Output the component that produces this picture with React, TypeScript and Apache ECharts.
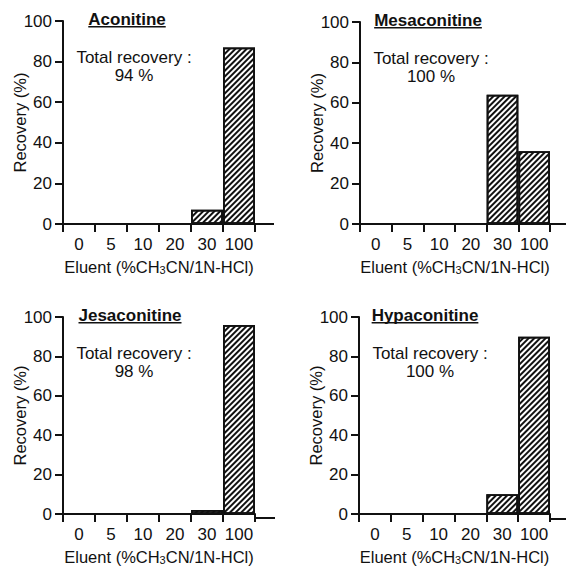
import React, { useEffect, useRef } from "react";
import * as echarts from "echarts";

const categories = ["0", "5", "10", "20", "30", "100"];
const aconitine = [0, 0, 0, 0, 7, 87];
const mesaconitine = [0, 0, 0, 0, 64, 36];
const jesaconitine = [0, 0, 0, 0, 2, 96];
const hypaconitine = [0, 0, 0, 0, 10, 90];
const compoundNames = ["Aconitine", "Mesaconitine", "Jesaconitine", "Hypaconitine"];
const totalRecovery = ["94 %", "100 %", "98 %", "100 %"];
const yTicks = { min: 0, max: 100, interval: 20 };
const yAxisName = "Recovery (%)";
const xAxisName = "{a|Eluent (%CH}{s|3}{a|CN/1N-HCl)}";
const annotationLabel = "Total recovery :";

const seriesValues = [aconitine, mesaconitine, jesaconitine, hypaconitine];

// layout of each panel (pixels)
const layouts = [
  { left: 63, top: 21, width: 192, height: 203, lineEnd: 274, titleX: 64 },
  { left: 360, top: 22, width: 190, height: 202, lineEnd: 566, titleX: 68 },
  { left: 63, top: 317, width: 192, height: 201, lineEnd: 275, titleX: 67 },
  { left: 359, top: 317, width: 191, height: 202, lineEnd: 566, titleX: 66 },
];

const FONT = "'Liberation Sans', Arial, Helvetica, sans-serif";
const INK = "#111";

function measure(text: string, font: string): number {
  const c = document.createElement("canvas");
  const ctx = c.getContext("2d");
  if (!ctx) return text.length * 9;
  ctx.font = font;
  return ctx.measureText(text).width;
}

export default function App() {
  const ref = useRef<HTMLDivElement>(null);

  useEffect(() => {
    if (!ref.current) return;
    const chart = echarts.init(ref.current, undefined, { renderer: "svg" });

    const grids = layouts.map((l) => ({
      left: l.left,
      top: l.top,
      width: l.width,
      height: l.height,
      containLabel: false,
    }));

    const xAxes = layouts.map((_, i) => ({
      type: "category",
      gridIndex: i,
      data: categories,
      boundaryGap: true,
      axisLine: { show: true, lineStyle: { color: INK, width: 2 } },
      axisTick: { show: true, length: 8, lineStyle: { color: INK, width: 2 } },
      axisLabel: { color: INK, fontSize: 17, fontFamily: FONT, margin: 12, interval: 0 },
      name: xAxisName,
      nameLocation: "middle",
      nameGap: 31,
      nameTextStyle: {
        color: INK,
        fontFamily: FONT,
        fontSize: 16.5,
        rich: {
          a: { fontSize: 16.5, fontFamily: FONT, color: INK, lineHeight: 20, verticalAlign: "bottom" },
          s: { fontSize: 11, fontFamily: FONT, color: INK, lineHeight: 7, verticalAlign: "bottom" },
        },
      },
      splitLine: { show: false },
    }));

    const yAxes = layouts.map((_, i) => ({
      type: "value",
      gridIndex: i,
      min: yTicks.min,
      max: yTicks.max,
      interval: yTicks.interval,
      axisLine: { show: true, lineStyle: { color: INK, width: 2 } },
      axisTick: { show: true, length: 8, lineStyle: { color: INK, width: 2 } },
      axisLabel: { color: INK, fontSize: 17, fontFamily: FONT, margin: 11 },
      splitLine: { show: false },
      name: yAxisName,
      nameLocation: "middle",
      nameRotate: 90,
      nameGap: 35,
      nameMoveOverlap: false,
      nameTextStyle: { color: INK, fontSize: 16.5, fontFamily: FONT },
    }));

    const series = seriesValues.map((vals, i) => ({
      type: "bar",
      xAxisIndex: i,
      yAxisIndex: i,
      data: vals,
      barWidth: "100%",
      barCategoryGap: "0%",
      itemStyle: {
        color: "#fff",
        borderColor: INK,
        borderWidth: 1.8,
        decal: {
          symbol: "rect",
          symbolSize: 1,
          color: INK,
          backgroundColor: "#fff",
          dashArrayX: [1, 0],
          dashArrayY: [1.3, 1.6],
          rotation: -Math.PI / 4,
        },
      },
    }));

    const graphic: any[] = [];
    const titleFont = `bold 17px ${FONT}`;
    layouts.forEach((l, i) => {
      const bottom = l.top + l.height;
      graphic.push({
        type: "line",
        shape: { x1: l.left + l.width, y1: bottom, x2: l.lineEnd, y2: bottom },
        style: { stroke: INK, lineWidth: 2 },
        silent: true,
      });
      const tx = l.left + l.titleX;
      const ty = l.top - 2;
      const w = measure(compoundNames[i], titleFont);
      graphic.push({
        type: "text",
        x: tx,
        y: ty,
        style: {
          text: compoundNames[i],
          font: titleFont,
          fill: INK,
          align: "center",
          verticalAlign: "middle",
        },
        silent: true,
      });
      graphic.push({
        type: "rect",
        shape: { x: tx - w / 2, y: ty + 7, width: w, height: 1.5 },
        style: { fill: INK },
        silent: true,
      });
      graphic.push({
        type: "text",
        x: l.left + 71,
        y: l.top + 36,
        style: {
          text: annotationLabel,
          font: `17px ${FONT}`,
          fill: INK,
          align: "center",
          verticalAlign: "middle",
        },
        silent: true,
      });
      graphic.push({
        type: "text",
        x: l.left + 71,
        y: l.top + 54,
        style: {
          text: totalRecovery[i],
          font: `17px ${FONT}`,
          fill: INK,
          align: "center",
          verticalAlign: "middle",
        },
        silent: true,
      });
    });

    chart.setOption({
      animation: false,
      backgroundColor: "#fff",
      textStyle: { fontFamily: FONT },
      grid: grids,
      xAxis: xAxes,
      yAxis: yAxes,
      series,
      graphic,
    } as any);

    return () => chart.dispose();
  }, []);

  return (
    <div
      ref={ref}
      style={{ position: "fixed", left: 0, top: 0, width: 566, height: 566, background: "#fff" }}
    />
  );
}
